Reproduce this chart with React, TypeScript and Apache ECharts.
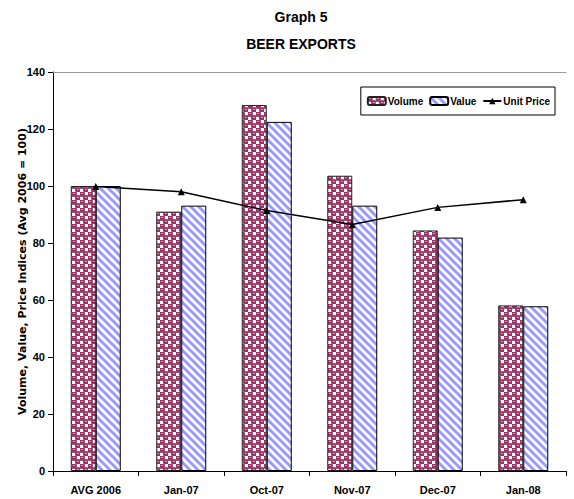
import React, { useEffect, useRef } from "react";
import * as echarts from "echarts";

const categories = ["AVG 2006", "Jan-07", "Oct-07", "Nov-07", "Dec-07", "Jan-08"];
const volume = [100, 91, 128.4, 103.6, 84.4, 58.1];
const value = [100, 93.1, 122.5, 93.1, 81.9, 57.8];
const unitPrice = [99.8, 98, 91.4, 86.5, 92.5, 95.2];
const yTicks = { min: 0, max: 140, interval: 20 };

const FONT = '"Liberation Sans Narrow", "Arial Narrow", "Liberation Sans", Arial, sans-serif';

// Maroon tile with white openings, giving the checkered "bubble" fill
function makeVolumeTile(): HTMLCanvasElement {
  const c = document.createElement("canvas");
  c.width = 8;
  c.height = 8;
  const g = c.getContext("2d")!;
  g.fillStyle = "#ffffff";
  g.fillRect(0, 0, 8, 8);
  g.fillStyle = "#993366";
  g.beginPath();
  g.arc(2, 2, 2.8, 0, Math.PI * 2);
  g.fill();
  g.beginPath();
  g.arc(6, 6, 2.8, 0, Math.PI * 2);
  g.fill();
  g.fillRect(0, 3.5, 8, 1);
  g.fillRect(3.5, 0, 1, 8);
  g.fillStyle = "#ffffff";
  g.fillRect(1.5, 1, 1, 1);
  g.fillRect(5.5, 5, 1, 1);
  return c;
}

// Light blue diagonal stripes running top-left to bottom-right
function makeValueTile(): HTMLCanvasElement {
  const c = document.createElement("canvas");
  c.width = 8;
  c.height = 8;
  const g = c.getContext("2d")!;
  g.fillStyle = "#ffffff";
  g.fillRect(0, 0, 8, 8);
  g.strokeStyle = "#9999ff";
  g.lineWidth = 3;
  for (let k = -8; k <= 8; k += 8) {
    g.beginPath();
    g.moveTo(k - 2, -2);
    g.lineTo(k + 10, 10);
    g.stroke();
  }
  return c;
}

export default function App() {
  const ref = useRef<HTMLDivElement>(null);

  useEffect(() => {
    if (!ref.current) return;
    const chart = echarts.init(ref.current, null, { renderer: "svg" });
    const volTile = makeVolumeTile();
    const valTile = makeValueTile();

    chart.setOption({
      animation: false,
      backgroundColor: "#ffffff",
      textStyle: { fontFamily: FONT },
      title: [
        {
          text: "Graph 5",
          left: 296,
          top: 5,
          textAlign: "center",
          textStyle: { fontFamily: FONT, fontSize: 14, fontWeight: "bold", color: "#000" },
        },
        {
          text: "BEER EXPORTS",
          left: 296,
          top: 32,
          textAlign: "center",
          textStyle: { fontFamily: FONT, fontSize: 14, fontWeight: "bold", color: "#000" },
        },
      ],
      legend: {
        right: 19,
        top: 87,
        orient: "horizontal",
        borderColor: "#000",
        borderWidth: 1,
        padding: [9, 5, 9, 6],
        itemGap: 6,
        itemWidth: 18,
        itemHeight: 8,
        textStyle: { fontFamily: FONT, fontSize: 10, fontWeight: "bold", color: "#000", padding: [0, 0, 0, -3] },
        data: [
          { name: "Volume" },
          { name: "Value" },
          { name: "Unit Price" },
        ],
      },
      grid: { left: 53, right: 8, top: 72, bottom: 28, containLabel: false },
      xAxis: [
        {
          type: "category",
          data: categories,
          axisLine: { lineStyle: { color: "#000", width: 1 } },
          axisTick: { show: true, alignWithLabel: false, length: 5, lineStyle: { color: "#000" } },
          axisLabel: { fontFamily: FONT, fontSize: 11, fontWeight: "bold", color: "#000", margin: 13 },
        },
        {
          type: "category",
          data: categories,
          position: "top",
          axisLine: { lineStyle: { color: "#999", width: 1 } },
          axisTick: { show: false },
          axisLabel: { show: false },
        },
      ],
      yAxis: {
        type: "value",
        min: yTicks.min,
        max: yTicks.max,
        interval: yTicks.interval,
        name: "Volume, Value, Price Indices (Avg 2006 = 100)",
        nameLocation: "middle",
        nameGap: 25,
        nameMoveOverlap: false,
        nameTextStyle: { fontFamily: '"DejaVu Sans", sans-serif', fontSize: 11, fontWeight: "bold", color: "#000" },
        axisLine: { show: true, lineStyle: { color: "#000", width: 1 } },
        axisTick: { show: true, length: 5, lineStyle: { color: "#000" } },
        axisLabel: { fontFamily: FONT, fontSize: 11, fontWeight: "bold", color: "#000", margin: 8 },
        splitLine: { show: false },
      },
      series: [
        {
          name: "Volume",
          type: "bar",
          data: volume,
          barWidth: 25,
          barGap: "0%",
          itemStyle: {
            color: { image: volTile, repeat: "repeat", imageWidth: 8, imageHeight: 8 },
            borderColor: "#222",
            borderWidth: 1,
          },
        },
        {
          name: "Value",
          type: "bar",
          data: value,
          barWidth: 25,
          barGap: "0%",
          itemStyle: {
            color: { image: valTile, repeat: "repeat", imageWidth: 8, imageHeight: 8 },
            borderColor: "#000",
            borderWidth: 1,
          },
        },
        {
          name: "Unit Price",
          type: "line",
          data: unitPrice,
          symbol: "triangle",
          symbolSize: 7,
          lineStyle: { color: "#000", width: 1.5 },
          itemStyle: { color: "#000" },
          z: 5,
        },
      ],
    });

    return () => chart.dispose();
  }, []);

  return <div ref={ref} style={{ width: 574, height: 499, position: "absolute", left: 0, top: 0 }} />;
}
